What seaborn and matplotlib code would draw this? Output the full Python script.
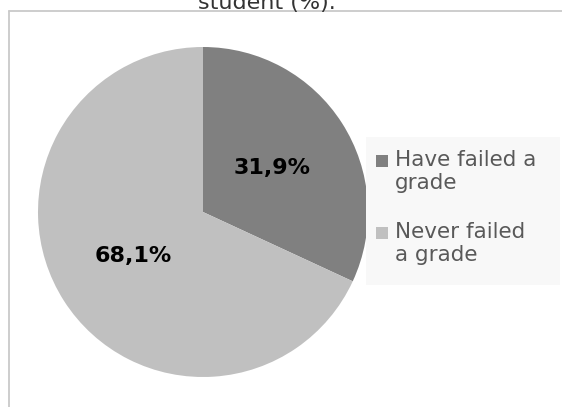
import matplotlib.pyplot as plt
import matplotlib.patches as mpatches
from matplotlib.lines import Line2D
import seaborn as sns

# data
categories = ['Have failed a\ngrade', 'Never failed\na grade']
shares = [31.9, 68.1]
slice_colors = ['#808080', '#c0c0c0']
title_text = 'student (%).'

sns.set_theme(style='white')
plt.rcParams['font.family'] = ['DejaVu Sans']

W, H = 562, 407
fig = plt.figure(figsize=(W / 100, H / 100), dpi=100)
fig.patch.set_facecolor('white')

def px(x, y, w=0, h=0):
    # pixel box (top-left origin) -> figure fraction
    return [x / W, 1 - (y + h) / H, w / W, h / H]

# chart area border (only top and left show in the crop)
bx, by = 8.5 / W, 1 - 10.5 / H
fig.add_artist(Line2D([bx, bx], [0, by], transform=fig.transFigure,
                      color='#c9c9c9', linewidth=1.3))
fig.add_artist(Line2D([bx, 1], [by, by], transform=fig.transFigure,
                      color='#c9c9c9', linewidth=1.3))

# pie
ax = fig.add_axes(px(38, 47, 330, 330))
wedges, texts, autotexts = ax.pie(
    shares, colors=slice_colors, startangle=90, counterclock=False,
    autopct=lambda p: f'{p:.1f}%'.replace('.', ','), pctdistance=0.5,
    wedgeprops=dict(linewidth=0), radius=1)
for t in autotexts:
    t.set_fontsize(16)
    t.set_fontweight('bold')
    t.set_color('black')
ax.set_xlim(-1, 1)
ax.set_ylim(-1, 1)
ax.axis('off')

# legend block
fig.patches.append(mpatches.Rectangle((366 / W, 1 - 285 / H), 194 / W, 148 / H,
                                      transform=fig.transFigure,
                                      facecolor='#f8f8f8', edgecolor='none'))
entry_top = [161, 233]
for lab, col, yc in zip(categories, slice_colors, entry_top):
    fig.patches.append(mpatches.Rectangle((376 / W, 1 - (yc + 6) / H), 12 / W, 12 / H,
                                          transform=fig.transFigure,
                                          facecolor=col, edgecolor='none'))
    fig.text(395 / W, 1 - (yc - 11) / H, lab, ha='left', va='top',
             fontsize=15.5, color='#595959', linespacing=1.2)

# title, mostly cropped off the top
fig.text(267 / W, 1 - 9 / H, title_text, ha='center', va='baseline',
         fontsize=16, color='#333333')

fig.savefig('out.png', dpi=100)
